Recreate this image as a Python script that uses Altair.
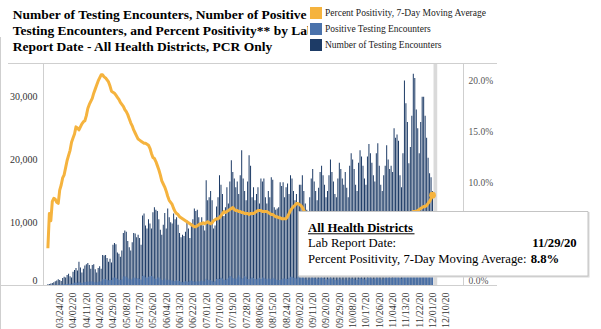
import altair as alt
import pandas as pd

SERIF = "Liberation Serif"
START_DATE = "2020-03-14"

# ---------------- data ----------------
tests_mar = [120, 150, 250, 300, 450, 600, 700, 900, 800, 650, 1100, 1300, 1200, 1600, 1800, 1400, 1200, 2100]
tests_apr = [2400, 2700, 2300, 3700, 2800, 2000, 2600, 3100, 3300, 3500,
             3200, 2600, 3200, 3300, 2500, 2000, 2700, 3000, 2600, 4800,
             4700, 4800, 4300, 3700, 4200, 3600, 6400, 6700, 6500, 5200]
tests_may = [5000, 4500, 5500, 8300, 8700, 8500, 7000, 6000, 5500, 6800,
             8300, 8200, 7600, 8000, 7500, 6400, 11100, 11400, 9500, 9000,
             10500, 9800, 9000, 11600, 12400, 12000, 11800, 10500, 8800, 8000, 9600]
tests_jun = [11500, 9000, 12200, 10800, 10000, 9800, 11400, 10500, 10800, 9600,
             8300, 7600, 8000, 7800, 8500, 10300, 9000, 7500, 9800, 10500,
             12200, 11800, 12000, 10800, 9800, 10800, 9500, 8700, 16700, 13500]
tests_jul = [14000, 15000, 13500, 9000, 9500, 12500, 14000, 17500, 16000, 14500,
             11000, 12400, 15600, 13000, 16500, 19900, 18000, 17000, 15600, 16500,
             14500, 17500, 21500, 17000, 15000, 13500, 16500, 20700, 19000, 14000, 15600]
tests_aug = [13500, 14500, 15600, 13000, 17000, 16500, 17000, 14000, 13000, 15000,
             14000, 17200, 16800, 12400, 12000, 12200, 12400, 16400, 15800, 16400,
             14000, 15600, 16200, 14500, 17500, 17000, 15000, 13500, 14500, 13000, 16000]
tests_sep = [16000, 17500, 15000, 13000, 12000, 11500, 14000, 17000, 18500, 16500,
             15000, 13500, 15500, 18000, 19000, 17500, 16000, 14000, 15000, 17500,
             20000, 18000, 16500, 14500, 14000, 17000, 19500, 18500, 17000, 16000]
tests_oct = [18000, 15500, 14000, 19000, 21000, 20000, 18500, 16000, 15000, 19500,
             21500, 20500, 19000, 17000, 16000, 20500, 22500, 21000, 19500, 17500,
             16500, 21000, 22600, 19000, 16000, 15000, 17500, 19000, 22300, 20000, 18500]
tests_nov = [19000, 18000, 25000, 23500, 24000, 23000, 17500, 15600, 21000, 32600,
             29000, 26000, 19400, 22000, 27000, 33700, 33000, 28000, 25000, 21000,
             26000, 30000, 30000, 27000, 23500, 20300, 17800, 17200, 15000]

pos_mar = [10, 15, 20, 25, 35, 45, 55, 70, 75, 70, 110, 130, 140, 170, 200, 180, 170, 280]
pos_apr = [350, 380, 360, 530, 400, 310, 400, 470, 520, 560,
           520, 580, 560, 500, 410, 380, 500, 560, 610, 900,
           880, 950, 830, 740, 780, 800, 1150, 1200, 1150, 1000]
pos_may = [850, 800, 900, 1350, 1400, 1300, 1150, 950, 850, 1000,
           1200, 1150, 1050, 1100, 950, 850, 1450, 1500, 1250, 1150,
           1300, 1400, 1450, 1350, 1050, 950, 1200, 1200, 1050, 800, 750]
pos_jun = [1050, 750, 850, 850, 750, 700, 600, 650, 750, 650,
           650, 500, 450, 500, 600, 550, 500, 700, 700, 650,
           500, 500, 600, 550, 600, 700, 600, 550, 1000, 800]
pos_jul = [850, 800, 650, 500, 600, 950, 1050, 950, 1150, 1050,
           850, 800, 950, 1150, 1450, 1350, 1100, 1050, 950, 1200,
           1550, 1250, 1000, 1100, 1450, 1300, 950, 900, 1050, 1200, 1100]
pos_aug = [950, 900, 1050, 1150, 950, 1200, 1150, 1000, 900, 1050,
           1000, 900, 1150, 1050, 900, 800, 800, 800, 900, 1050,
           1050, 1000, 950, 1150, 1300, 1300, 1150, 1150, 1050, 1250, 1200]
pos_sep = [1200, 1300, 1100, 900, 850, 800, 950, 1150, 1250, 1100,
           1000, 900, 1000, 1150, 1200, 1100, 1000, 850, 900, 1000,
           1100, 1000, 900, 800, 750, 850, 950, 900, 850, 800]
pos_oct = [900, 750, 700, 950, 1050, 1000, 950, 800, 800, 1000,
           1100, 1050, 1000, 900, 850, 1100, 1200, 1150, 1050, 950,
           900, 1150, 1250, 1050, 900, 850, 1000, 1100, 1300, 1150, 1100]
pos_nov = [1150, 1100, 1550, 1450, 1550, 1450, 1150, 1000, 1400, 2200,
           2000, 1800, 1350, 1550, 1900, 2400, 2400, 2000, 1800, 1600,
           1950, 2200, 2200, 2000, 1800, 1600, 1400, 1350, 1300]

pct_mar = [3.6, 7.0, 6.3, 8.2, 8.5, 8.4, 8.1, 8.0, 9.3, 9.8, 10.5, 10.8, 11.5, 12.2, 12.7, 13.2, 14.0, 14.4]
pct_apr = [14.8, 15.5, 15.4, 15.2, 15.5, 15.8, 16.0, 16.1, 16.6, 17.3,
           17.7, 18.0, 18.3, 18.8, 19.2, 19.6, 20.0, 20.3, 20.6, 20.6,
           20.4, 20.3, 20.1, 19.9, 19.5, 19.0, 18.9, 18.8, 18.6, 18.4]
pct_may = [18.2, 17.9, 17.7, 17.5, 17.2, 17.0, 16.7, 16.3, 15.9, 15.6,
           15.2, 14.9, 14.6, 14.3, 14.2, 14.1, 14.0, 13.9, 13.9, 13.8,
           13.7, 13.4, 12.9, 12.5, 12.4, 12.1, 11.7, 11.3, 10.8, 10.2, 9.9]
pct_jun = [9.6, 9.2, 8.7, 8.3, 8.1, 7.9, 7.5, 7.2, 7.0, 6.9,
           6.7, 6.6, 6.5, 6.4, 6.3, 6.2, 6.1, 6.0, 5.9, 5.8,
           5.7, 5.7, 5.8, 5.9, 6.0, 6.0, 6.1, 6.0, 6.1, 6.2]
pct_jul = [6.1, 6.0, 6.1, 6.3, 6.4, 6.5, 6.5, 6.6, 6.8, 7.0,
           7.2, 7.1, 7.2, 7.3, 7.4, 7.5, 7.6, 7.4, 7.3, 7.3,
           7.2, 7.2, 7.1, 7.1, 7.0, 7.0, 7.0, 6.9, 7.0, 7.0, 7.0]
pct_aug = [7.1, 7.2, 7.3, 7.3, 7.3, 7.2, 7.2, 7.2, 7.2, 7.1,
           7.0, 6.9, 6.9, 6.8, 6.7, 6.7, 6.6, 6.6, 6.5, 6.5,
           6.5, 6.5, 6.7, 7.0, 7.3, 7.5, 7.7, 7.8, 8.0, 8.0, 7.9]
pct_sep = [7.8, 7.6, 7.3, 7.1, 7.0, 6.9, 6.8, 6.8, 6.7, 6.6,
           6.5, 6.4, 6.3, 6.1, 6.0, 5.9, 5.8, 5.7, 5.6, 5.5,
           5.4, 5.3, 5.2, 5.1, 5.0, 5.0, 4.9, 4.9, 4.8, 4.8]
pct_oct = [4.8, 4.8, 4.9, 4.9, 5.0, 5.0, 5.1, 5.1, 5.2, 5.2,
           5.3, 5.3, 5.3, 5.4, 5.4, 5.5, 5.5, 5.5, 5.4, 5.4,
           5.4, 5.5, 5.5, 5.6, 5.6, 5.7, 5.7, 5.8, 5.8, 5.9, 6.0]
pct_nov = [6.0, 6.1, 6.2, 6.3, 6.4, 6.5, 6.5, 6.6, 6.7, 6.8,
           6.9, 7.0, 7.0, 7.1, 7.1, 7.2, 7.2, 7.2, 7.3, 7.4,
           7.5, 7.6, 7.7, 7.7, 7.8, 8.0, 8.2, 8.5, 8.8]

tick_label_dates = ["2020-03-24", "2020-04-02", "2020-04-11", "2020-04-20", "2020-04-29",
                    "2020-05-08", "2020-05-17", "2020-05-26", "2020-06-04", "2020-06-13",
                    "2020-06-22", "2020-07-01", "2020-07-10", "2020-07-19", "2020-07-28",
                    "2020-08-06", "2020-08-15", "2020-08-24", "2020-09-02", "2020-09-11",
                    "2020-09-20", "2020-09-29", "2020-10-08", "2020-10-17", "2020-10-26",
                    "2020-11-04", "2020-11-13", "2020-11-22", "2020-12-01", "2020-12-10"]
left_ticks = [0, 10000, 20000, 30000]
right_ticks = [0, 0.05, 0.10, 0.15, 0.20]

legend_labels = ["Percent Positivity, 7-Day Moving Average",
                 "Positive Testing Encounters",
                 "Number of Testing Encounters"]
title_lines = ["Number of Testing Encounters, Number of Positive",
               "Testing Encounters, and Percent Positivity** by Lab",
               "Report Date - All Health Districts, PCR Only"]
tooltip_heading = "All Health Districts"
tooltip_date_label = "Lab Report Date:"
tooltip_pct_label = "Percent Positivity, 7-Day Moving Average:"

# ---------------- styles ----------------
ORANGE = "#F5B33E"
BLUE = "#4A72AB"
NAVY = "#1D3B66"
FRAME = "#CFCFCF"

tests = tests_mar + tests_apr + tests_may + tests_jun + tests_jul + tests_aug + tests_sep + tests_oct + tests_nov
positives = pos_mar + pos_apr + pos_may + pos_jun + pos_jul + pos_aug + pos_sep + pos_oct + pos_nov
pct = pct_mar + pct_apr + pct_may + pct_jun + pct_jul + pct_aug + pct_sep + pct_oct + pct_nov
assert len(tests) == len(positives) == len(pct)

dates = pd.date_range(START_DATE, periods=len(tests), freq="D")
df = pd.DataFrame({"date": dates, "tests": tests, "positives": positives,
                   "pct": [v / 100 for v in pct]})
last = df.iloc[[-1]]
one = pd.DataFrame({"k": [0]})


def dt(s, hours=0):
    t = pd.Timestamp(s)
    return alt.DateTime(year=t.year, month=t.month, date=t.day, hours=hours)


W, H = 420, 222
x_scale = alt.Scale(domain=[dt("2020-03-14", 2), dt("2020-12-16", 5)], nice=False)
x_axis = alt.Axis(values=[dt(s) for s in tick_label_dates], format="%m/%d/%y", labelAngle=270,
                  labelBaseline="alphabetic",
                  labelFont=SERIF, labelFontSize=10, labelColor="#333333", ticks=False,
                  domain=False, grid=False, title=None, labelPadding=7,
                  labelOverlap=False, labelFlush=False, labelBound=False)
left_scale = alt.Scale(domain=[0, 35400], nice=False, zero=True)
left_axis = alt.Axis(values=left_ticks, format=",.0f", orient="left",
                     labelFont=SERIF, labelFontSize=10,
                     labelColor="#333333", ticks=False, domain=True, domainColor=FRAME,
                     grid=False, title=None, labelPadding=6, labelFlush=True,
                     labelOverlap=False)
right_scale = alt.Scale(domain=[0, 0.2176], nice=False, zero=True)
right_axis = alt.Axis(values=right_ticks, format=".1%", orient="right", labelFont=SERIF,
                      labelFontSize=9.5, labelColor="#555555", ticks=False, domain=True,
                      domainColor=FRAME, grid=False, title=None, labelPadding=5,
                      labelFlush=True, labelOverlap=False)

color_scale = alt.Scale(domain=legend_labels, range=[ORANGE, BLUE, NAVY])
legend = alt.Legend(title=None, orient="none", legendX=265, legendY=-58, symbolType="square",
                    symbolSize=144, symbolStrokeWidth=0, labelFont=SERIF, labelFontSize=9.5,
                    labelColor="#222222", rowPadding=4, padding=2, fillColor="white",
                    labelOffset=3, labelLimit=0, zindex=1)

base = alt.Chart(df)
# the same x axis definition on every layer, so the shared axis is kept
X = alt.X("date:T", scale=x_scale, axis=x_axis)

band = alt.Chart(one).mark_rect(color="#DADADA").encode(
    x=alt.X(datum=dt("2020-11-29", 16), type="temporal", scale=x_scale, axis=x_axis),
    x2=alt.X2(datum=dt("2020-12-02", 4)),
    y=alt.value(0), y2=alt.value(H))

tests_bars = base.transform_calculate(series=f"'{legend_labels[2]}'").mark_bar(size=1).encode(
    x=X,
    y=alt.Y("tests:Q", scale=left_scale, axis=None, stack=None),
    color=alt.Color("series:N", scale=color_scale, legend=legend))
pos_bars = base.transform_calculate(series=f"'{legend_labels[1]}'").mark_bar(size=1).encode(
    x=X,
    y=alt.Y("positives:Q", scale=left_scale, axis=None, stack=None),
    color=alt.Color("series:N", scale=color_scale, legend=legend))

# invisible carrier for the left axis (testing encounters scale)
left_axis_layer = base.mark_point(opacity=0).encode(
    x=X, y=alt.Y("tests:Q", scale=left_scale, axis=left_axis))

line = base.mark_line(color=ORANGE, strokeWidth=3, strokeJoin="round").encode(
    x=X, y=alt.Y("pct:Q", scale=right_scale, axis=right_axis))
dot = alt.Chart(last).mark_circle(color=ORANGE, size=45, opacity=1).encode(
    x=X, y=alt.Y("pct:Q", scale=right_scale, axis=None))


def hline(x1, x2, y, color=FRAME):
    return alt.Chart(one).mark_rule(color=color, strokeWidth=1).encode(
        x=alt.value(x1), x2=alt.value(x2), y=alt.value(y))


def vline(x, y1, y2, color=FRAME):
    return alt.Chart(one).mark_rule(color=color, strokeWidth=1).encode(
        x=alt.value(x), y=alt.value(y1), y2=alt.value(y2))


frames = [hline(-35, 454, 0.5), hline(-43, 454, H + 0.5), vline(-42.5, -26, 266)]


def txt(s, x, y, bold=False, align="left", size=12.7):
    return alt.Chart(one).mark_text(
        text=s, align=align, baseline="alphabetic", font=SERIF, fontSize=size,
        fontWeight="bold" if bold else "normal", color="black").encode(
        x=alt.value(x), y=alt.value(y))


title_marks = [txt(t, -30.3, -44 + 16 * k, bold=True, size=13.5) for k, t in enumerate(title_lines)]

# tooltip box
shadow = alt.Chart(one).mark_rect(color="#D8D8D8").encode(
    x=alt.value(256), x2=alt.value(546.5), y=alt.value(149), y2=alt.value(214.5))
box = alt.Chart(one).mark_rect(fill="white", stroke="#C4C4C4", strokeWidth=1).encode(
    x=alt.value(255.5), x2=alt.value(545), y=alt.value(148.5), y2=alt.value(213))

last_date_str = last["date"].iloc[0].strftime("%m/%d/%y")
last_pct_str = f"{last['pct'].iloc[0] * 100:.1f}%"
tooltip = [
    shadow, box,
    txt(tooltip_heading, 265, 168.7, bold=True),
    alt.Chart(one).mark_rule(color="black", strokeWidth=1).encode(
        x=alt.value(265), x2=alt.value(371.5), y=alt.value(170.8)),
    txt(tooltip_date_label, 265, 184.3),
    txt(last_date_str, 533.7, 184.3, bold=True, align="right"),
    txt(tooltip_pct_label, 265, 199.7),
    txt(last_pct_str, 487.7, 199.7, bold=True),
]

chart = alt.layer(band, left_axis_layer, tests_bars, pos_bars, line, dot,
                  *frames, *title_marks, *tooltip).resolve_scale(
    y="independent"
).properties(
    width=W, height=H,
    padding={"left": 43, "top": 63, "right": 138, "bottom": 44},
    autosize=alt.AutoSizeParams(type="none"),
    background="white",
).configure_view(stroke=None)

chart.save("out.html", embed_options={"renderer": "svg", "actions": False})
